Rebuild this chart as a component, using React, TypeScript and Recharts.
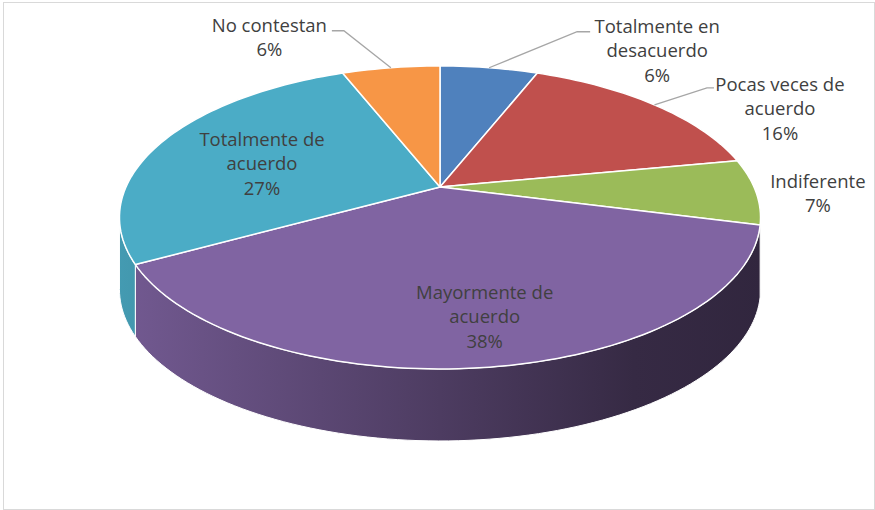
import { PieChart, Pie, Cell } from 'recharts'

// chart data
const categories = [
  'Totalmente en desacuerdo',
  'Pocas veces de acuerdo',
  'Indiferente',
  'Mayormente de acuerdo',
  'Totalmente de acuerdo',
  'No contestan',
]
const labelLines = [
  ['Totalmente en', 'desacuerdo'],
  ['Pocas veces de', 'acuerdo'],
  ['Indiferente'],
  ['Mayormente de', 'acuerdo'],
  ['Totalmente de', 'acuerdo'],
  ['No contestan'],
]
const percentages = [6, 16, 7, 38, 27, 6]
const colors = ['#4F81BD', '#C0504D', '#9BBB59', '#8064A2', '#4BACC6', '#F79646']

const data = categories.map((name, i) => ({ name, value: percentages[i] }))

// 3d look
const RY_RATIO = 0.463
const PERSPECTIVE = 0.201
const DEPTH = 72
const FRONT_LO = -168.4
const FRONT_HI = -11.6

// label placement relative to the rim point at the slice's mid angle
const labelLayout = [
  { dx: 168, dy: -17, leader: [[88, -36], [101, -36]] },
  { dx: 125.5, dy: 4, leader: [[52.5, -17], [59.5, -17]] },
  { dx: 62, dy: 2, leader: null },
  { dx: -4.5, dy: -50.5, leader: null },
  { dx: 98.6, dy: 23, leader: null },
  { dx: -121.5, dy: -30, leader: [[-47, -37], [-59, -37]] },
]

const FONT = '"Open Sans", "Noto Sans", sans-serif'
const LINE_H = 24.5

function project(cx: number, cy: number, rx: number, deg: number): [number, number] {
  const a = (deg * Math.PI) / 180
  const x = Math.cos(a)
  const y = Math.sin(a)
  const w = 1 + PERSPECTIVE * y
  return [cx + (rx * x) / w, cy - (rx * RY_RATIO * y) / w]
}

function shade(hex: string, f: number) {
  const n = parseInt(hex.slice(1), 16)
  const r = Math.round(((n >> 16) & 255) * f)
  const g = Math.round(((n >> 8) & 255) * f)
  const b = Math.round((n & 255) * f)
  return `rgb(${r},${g},${b})`
}

function arcPoints(cx: number, cy: number, rx: number, from: number, to: number) {
  const steps = Math.max(2, Math.ceil(Math.abs(to - from) / 1.5))
  const pts: [number, number][] = []
  for (let i = 0; i <= steps; i++) {
    pts.push(project(cx, cy, rx, from + ((to - from) * i) / steps))
  }
  return pts
}

function Slice3D(props: any) {
  const { cx, cy, outerRadius, startAngle, endAngle, fill } = props
  const lo = Math.min(startAngle, endAngle)
  const hi = Math.max(startAngle, endAngle)
  const top = arcPoints(cx, cy, outerRadius, startAngle, endAngle)
  const topPath = `M${cx},${cy}` + top.map((p) => `L${p[0]},${p[1]}`).join('') + 'Z'

  const gid = `wall-${String(fill).replace('#', '')}`
  const walls: string[] = []
  for (const k of [0, -360, 360]) {
    const a1 = Math.max(lo, FRONT_LO + k)
    const a2 = Math.min(hi, FRONT_HI + k)
    if (a2 > a1) {
      const upper = arcPoints(cx, cy, outerRadius, a1, a2)
      const lower = arcPoints(cx, cy, outerRadius, a2, a1).map((p) => [p[0], p[1] + DEPTH])
      walls.push(
        `M${upper[0][0]},${upper[0][1]}` +
          upper.slice(1).map((p) => `L${p[0]},${p[1]}`).join('') +
          lower.map((p) => `L${p[0]},${p[1]}`).join('') +
          'Z'
      )
    }
  }

  return (
    <g>
      <defs>
        <linearGradient id={gid} gradientUnits="userSpaceOnUse" x1={cx - outerRadius * 1.03} x2={cx + outerRadius * 1.03} y1={0} y2={0}>
          <stop offset="0" stopColor={shade(fill, 0.9)} />
          <stop offset="0.5" stopColor={shade(fill, 0.6)} />
          <stop offset="0.8" stopColor={shade(fill, 0.42)} />
          <stop offset="1" stopColor={shade(fill, 0.38)} />
        </linearGradient>
      </defs>
      {walls.map((d, i) => (
        <path key={i} d={d} fill={`url(#${gid})`} stroke="#ffffff" strokeWidth={1} strokeLinejoin="round" />
      ))}
      <path d={topPath} fill={fill} stroke="#ffffff" strokeWidth={1.5} strokeLinejoin="round" />
    </g>
  )
}

function renderLabel(props: any) {
  const { cx, cy, outerRadius, midAngle, percent, name } = props
  const index = props.index ?? categories.indexOf(name)
  const layout = labelLayout[index]
  const [rx0, ry0] = project(cx, cy, outerRadius, midAngle)
  const tx = rx0 + layout.dx
  const ty = ry0 + layout.dy
  const lines = [...labelLines[index], `${Math.round(percent * 100)}%`]
  const n = lines.length
  return (
    <g key={`label-${index}`}>
      {layout.leader && (
        <polyline
          points={[[rx0, ry0], ...layout.leader.map((p) => [rx0 + p[0], ry0 + p[1]])].map((p) => p.join(',')).join(' ')}
          fill="none"
          stroke="#a6a6a6"
          strokeWidth={1.3}
        />
      )}
      <text textAnchor="middle" fontFamily={FONT} fontSize={18.5} fill="#404040">
        {lines.map((t, i) => (
          <tspan key={i} x={tx} y={ty + 6.5 + (i - (n - 1) / 2) * LINE_H}>
            {t}
          </tspan>
        ))}
      </text>
    </g>
  )
}

export default function App() {
  return (
    <div style={{ position: 'absolute', left: 0, top: 0, width: 875, height: 510, background: '#ffffff' }}>
      <div
        style={{
          position: 'absolute',
          left: 3,
          top: 2,
          width: 872,
          height: 508,
          boxSizing: 'border-box',
          border: '1px solid #d9d9d9',
        }}
      />
      <div style={{ position: 'absolute', left: 0, top: 0 }}>
        <PieChart width={875} height={510} margin={{ top: 0, right: 0, bottom: 0, left: 0 }}>
          <Pie
            data={data}
            dataKey="value"
            nameKey="name"
            cx={440}
            cy={187}
            outerRadius={314}
            startAngle={90}
            endAngle={-270}
            stroke="none"
            isAnimationActive={false}
            shape={Slice3D}
            inactiveShape={Slice3D}
            activeShape={Slice3D}
            label={renderLabel}
            labelLine={false}
          >
            {data.map((d, i) => (
              <Cell key={d.name} fill={colors[i]} />
            ))}
          </Pie>
        </PieChart>
      </div>
    </div>
  )
}
